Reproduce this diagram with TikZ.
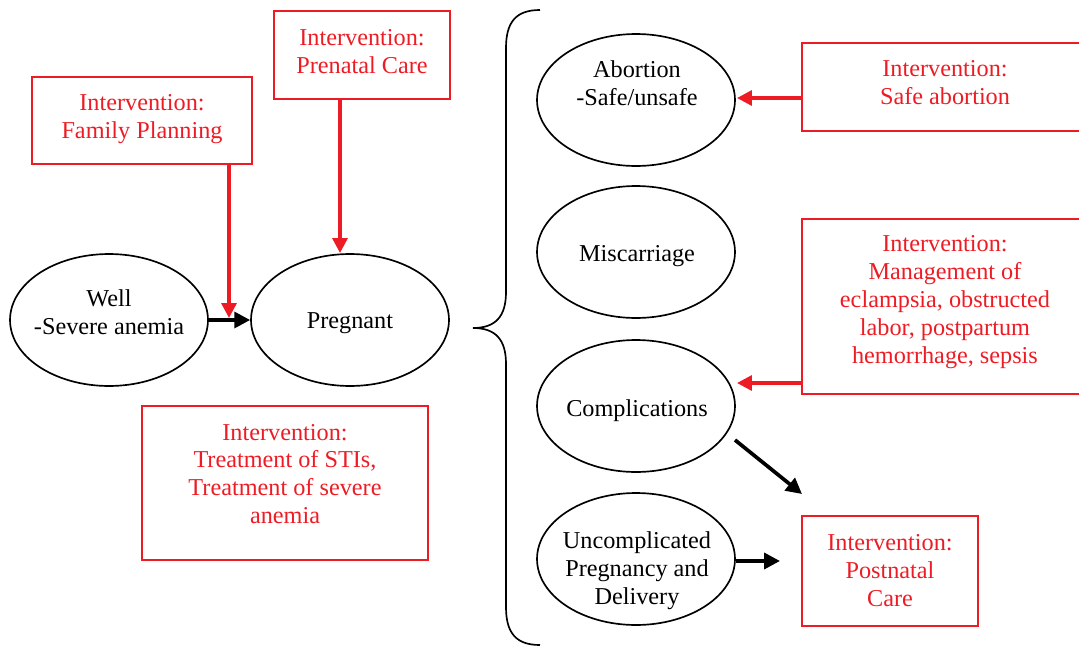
\documentclass[tikz,border=0pt]{standalone}
\usepackage{fontspec}
\setmainfont{Liberation Serif}
\usetikzlibrary{arrows.meta,shapes.geometric}
\definecolor{ired}{RGB}{237,28,36}
\begin{document}
\begin{tikzpicture}[x=0.02cm,y=-0.02cm,
  every node/.style={font=\fontsize{13.8}{15.9}\selectfont, align=center, inner sep=0pt},
  state/.style={draw, ellipse, line width=0.95pt, minimum width=3.96cm, minimum height=2.64cm},
  ibox/.style={draw=ired, line width=1.3pt, rectangle},
  itext/.style={text=ired},
  redarrow/.style={draw=ired, line width=1.9pt, -{Triangle[length=8.5pt,width=8.5pt]}},
  blackarrow/.style={draw=black, line width=2.1pt, -{Triangle[length=9pt,width=9pt]}},
  bracestyle/.style={draw=black, line width=0.95pt}
]
\useasboundingbox (0,0) rectangle (1079,649);
\clip (0,0) rectangle (1079,649);

% intervention boxes
\node[ibox, minimum width=4.4cm, minimum height=1.74cm] (fp) at (142,120.5) {};
\node[itext] (fpt) at (142,119) {Intervention:\\Family Planning};
\node[ibox, minimum width=3.52cm, minimum height=1.76cm] (pn) at (362,55) {};
\node[itext] (pnt) at (362,51.5) {Intervention:\\Prenatal Care};
\node[ibox, minimum width=5.72cm, minimum height=3.08cm] (sti) at (285,483) {};
\node[itext] (stit) at (285,474) {Intervention:\\Treatment of STIs,\\Treatment of severe\\anemia};
\node[ibox, minimum width=5.66cm, minimum height=1.76cm] (sab) at (943.5,87) {};
\node[itext] (sabt) at (945,83) {Intervention:\\Safe abortion};
\node[ibox, minimum width=5.66cm, minimum height=3.5cm] (mg) at (943.5,306.5) {};
\node[itext] (mgt) at (945,302) {Intervention:\\Management of\\eclampsia, obstructed\\labor, postpartum\\hemorrhage, sepsis};
\node[ibox, minimum width=3.52cm, minimum height=2.2cm] (pnc) at (890,571) {};
\node[itext] (pnct) at (890,570.5) {Intervention:\\Postnatal\\Care};

% states
\node[state] (well) at (109,320) {};
\node (wellt) at (109,312) {Well\\-Severe anemia};
\node[state] (pg) at (350,320) {};
\node (pgt) at (350,323) {Pregnant};
\node[state] (ab) at (636,100) {};
\node (abt) at (637,83.5) {Abortion\\-Safe/unsafe};
\node[state] (mc) at (636,252) {};
\node (mct) at (637,256) {Miscarriage};
\node[state] (cp) at (636,406) {};
\node (cpt) at (637,411) {Complications};
\node[state] (un) at (636,559) {};
\node (unt) at (637,571) {Uncomplicated\\Pregnancy and\\Delivery};

% brace
\draw[bracestyle] (540,10) .. controls (516,10) and (506,22) .. (506,48) -- (506,292)
  .. controls (506,316) and (496,328) .. (473,328)
  .. controls (496,328) and (506,340) .. (506,364) -- (506,607)
  .. controls (506,633) and (516,645) .. (540,645);

% connectors
\coordinate (fpa) at (229,318);
\coordinate (pna) at (340,253);
\coordinate (aba) at (737,98);
\coordinate (cpa) at (737,383);
\coordinate (cps) at (735,440);
\coordinate (cpe) at (802,494);
\coordinate (una) at (780,561);
\draw[blackarrow] (well.east) -- (pg.west);
\draw[redarrow] (fp.south -| fpa) -- (fpa);
\draw[redarrow] (pn.south -| pna) -- (pna);
\draw[redarrow] (sab.west |- aba) -- (aba);
\draw[redarrow] (mg.west |- cpa) -- (cpa);
\draw[blackarrow] (cps) -- (cpe);
\draw[blackarrow] (un.east |- una) -- (una);
\end{tikzpicture}
\end{document}
